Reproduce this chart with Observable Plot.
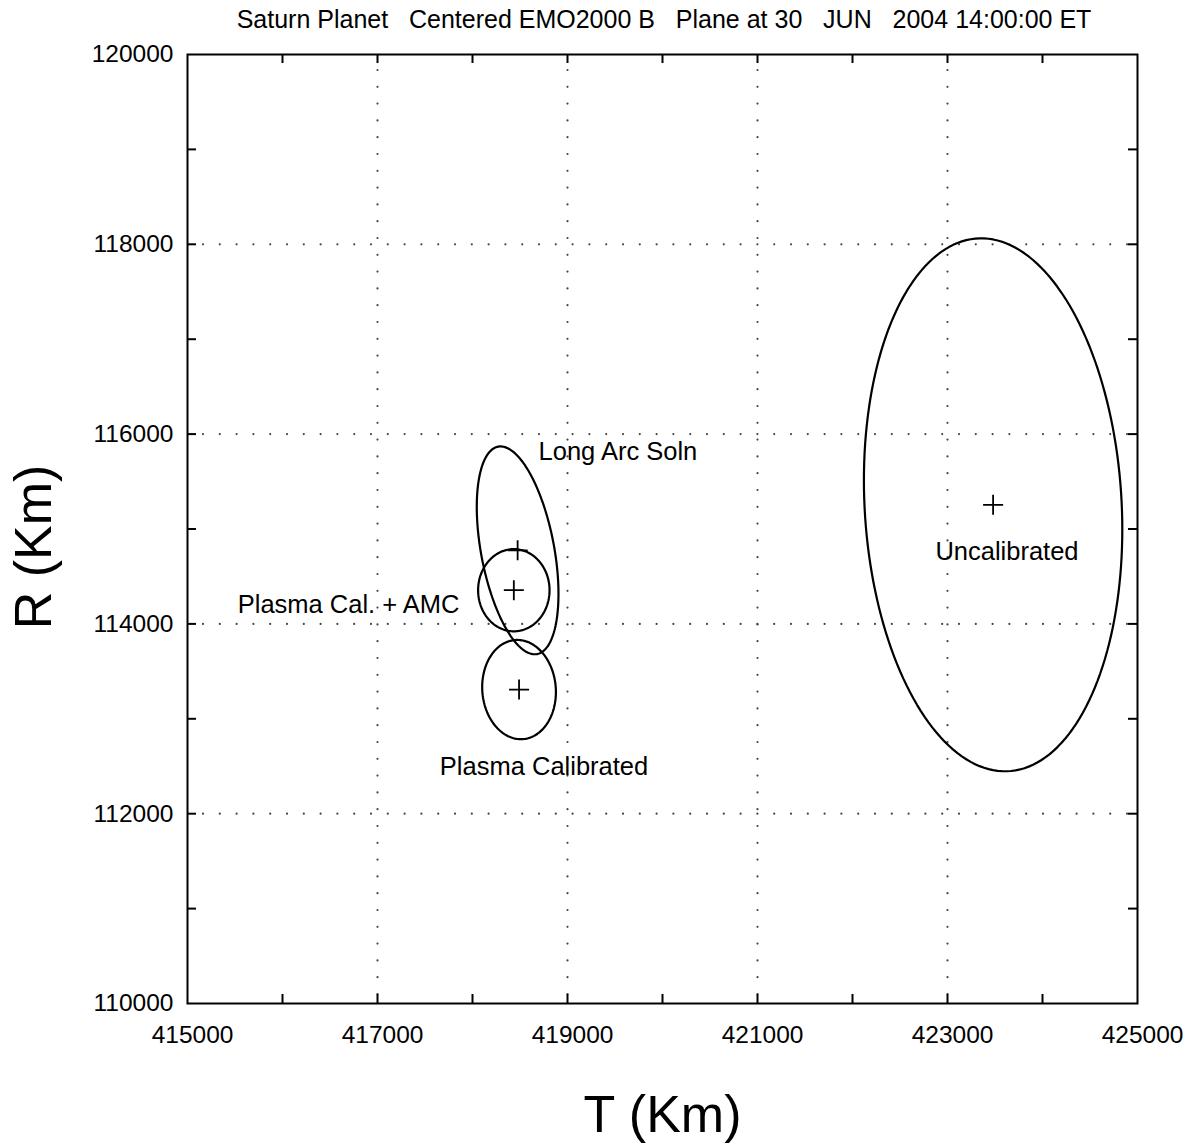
<!DOCTYPE html>
<html>
<head>
<meta charset="utf-8">
<script src="https://cdn.jsdelivr.net/npm/d3@7"></script>
<script src="https://cdn.jsdelivr.net/npm/@observablehq/plot@0.6"></script>
<style>
  html, body { margin: 0; padding: 0; background: #fff; }
  svg text { white-space: pre; }
</style>
</head>
<body>
<div id="chart"></div>
<script>
// ---- data ----
const titleText = "Saturn Planet   Centered EMO2000 B   Plane at 30   JUN   2004 14:00:00 ET";
const xTitle = "T (Km)";
const yTitle = "R (Km)";

const xTickLabels = [415000, 417000, 419000, 421000, 423000, 425000];
const yTickLabels = [110000, 112000, 114000, 116000, 118000, 120000];
const xTicks = [416000, 417000, 418000, 419000, 420000, 421000, 422000, 423000, 424000];
const yTicks = [111000, 112000, 113000, 114000, 115000, 116000, 117000, 118000, 119000];
const xGrid = [417000, 419000, 421000, 423000];
const yGrid = [112000, 114000, 116000, 118000];

// error ellipses: centre, 1-sigma extents, correlation
const ellipseNames = ["Uncalibrated", "Long Arc Soln", "Plasma Cal. + AMC", "Plasma Calibrated"];
const centerT = [423480, 418475, 418435, 418490];
const centerR = [115255, 114775, 114355, 113308];
const sigmaT  = [1360, 430, 376, 388];
const sigmaR  = [2808, 1095, 433, 523];
const corr    = [-0.092, -0.418, 0.0, -0.05];

const labelText   = ["Long Arc Soln", "Plasma Cal. + AMC", "Plasma Calibrated", "Uncalibrated"];
const labelT      = [418695, 417863, 418753, 423626];
const labelR      = [115811, 114200, 112495, 114758];
const labelAnchor = ["start", "end", "middle", "middle"];

// ---- build tables ----
const ellipsePts = [];
ellipseNames.forEach((name, i) => {
  for (let k = 0; k < 360; k += 2) {
    const t = k * Math.PI / 180;
    ellipsePts.push({
      name,
      T: centerT[i] + sigmaT[i] * Math.cos(t),
      R: centerR[i] + sigmaR[i] * (corr[i] * Math.cos(t) + Math.sqrt(1 - corr[i] * corr[i]) * Math.sin(t))
    });
  }
});
const centers = ellipseNames.map((name, i) => ({name, T: centerT[i], R: centerR[i]}));
const labels = labelText.map((text, i) => ({text, T: labelT[i], R: labelR[i], anchor: labelAnchor[i]}));

const xMin = 415000, xMax = 425000, yMin = 110000, yMax = 120000;
const tickLen = 95; // in km (~9 px)
const font = "'Liberation Sans', Arial, Helvetica, sans-serif";

const labelMarks = ["start", "middle", "end"].map(a =>
  Plot.text(labels, {filter: d => d.anchor === a, x: "T", y: "R", text: "text", textAnchor: a,
    fontSize: 25.5, fill: "#000", lineAnchor: "middle"}));

const chart = Plot.plot({
  width: 1189,
  height: 1145,
  marginLeft: 187,
  marginRight: 52,
  marginTop: 54,
  marginBottom: 142,
  style: {fontFamily: font, background: "#fff", color: "#000"},
  x: {domain: [xMin, xMax]},
  y: {domain: [yMin, yMax]},
  marks: [
    // dotted grid
    Plot.ruleX(xGrid, {stroke: "#444", strokeWidth: 2.2, strokeLinecap: "round", strokeDasharray: "0,16.8", strokeDashoffset: -16}),
    Plot.ruleY(yGrid, {stroke: "#444", strokeWidth: 2.2, strokeLinecap: "round", strokeDasharray: "0,16.8", strokeDashoffset: -16}),
    // inward ticks on all four sides
    Plot.ruleX(xTicks, {y1: yMin, y2: yMin + tickLen, stroke: "#000", strokeWidth: 2}),
    Plot.ruleX(xTicks, {y1: yMax, y2: yMax - tickLen, stroke: "#000", strokeWidth: 2}),
    Plot.ruleY(yTicks, {x1: xMin, x2: xMin + tickLen, stroke: "#000", strokeWidth: 2}),
    Plot.ruleY(yTicks, {x1: xMax, x2: xMax - tickLen, stroke: "#000", strokeWidth: 2}),
    // axes labels
    Plot.axisX(xTickLabels, {anchor: "bottom", tickSize: 0, tickPadding: 22, dx: 5, fontSize: 24.5, tickFormat: d => String(d), label: null}),
    Plot.axisY(yTickLabels, {anchor: "left", tickSize: 0, tickPadding: 14, fontSize: 24.5, tickFormat: d => String(d), label: null}),
    Plot.frame({stroke: "#000", strokeWidth: 2}),
    // ellipses
    Plot.line(ellipsePts, {x: "T", y: "R", z: "name", curve: "linear-closed", stroke: "#000", strokeWidth: 2.2}),
    Plot.dot(centers, {x: "T", y: "R", symbol: "plus", r: 6.5, stroke: "#000", strokeWidth: 1.8}),
    // annotations
    ...labelMarks,
    // title and axis titles
    Plot.text([titleText], {frameAnchor: "top", dy: -34.5, dx: 1.5, lineAnchor: "middle", textAnchor: "middle", fontSize: 25, fill: "#000"}),
    Plot.text([xTitle], {frameAnchor: "bottom", dy: 112, lineAnchor: "middle", textAnchor: "middle", fontSize: 52, fill: "#000"}),
    Plot.text([yTitle], {frameAnchor: "left", dx: -153, dy: 18, rotate: -90, lineAnchor: "middle", textAnchor: "middle", fontSize: 52, fill: "#000"})
  ]
});
document.getElementById("chart").appendChild(chart);
</script>
</body>
</html>
